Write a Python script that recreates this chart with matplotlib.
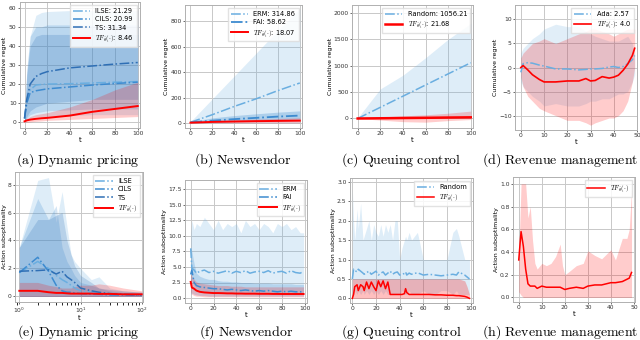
import numpy as np
import matplotlib; matplotlib.use("Agg")
import matplotlib.pyplot as plt

plt.rcParams["mathtext.fontset"] = "cm"
plt.rcParams["font.family"] = "DejaVu Sans"

TF = r"$TF_{\hat{\theta}}(\cdot)$"
C_L, C_M, C_D, C_R = "#6aaee0", "#3d8bd0", "#2f6fb5", "#ff0000"

# ── (a) dynamic pricing, cumulative regret ──────────────────────────────────
a_t        = [0, 2, 5, 10, 15, 20, 40, 60, 80, 100]
a_ilse     = [2, 12, 17, 19.5, 19.8, 20, 20.2, 20.6, 21, 21.3]
a_ilse_lo  = [0, 1, 2, 3, 3, 3, 3.5, 4, 4, 4]
a_ilse_hi  = [4, 25, 45, 56, 57.5, 58, 58.5, 58.5, 58.5, 58.5]
a_cils     = [2, 10, 15.5, 16.5, 17, 17.5, 18.5, 19.5, 20.3, 21.0]
a_cils_lo  = [0, 2, 4, 5, 5.5, 6, 6.5, 7, 7, 7]
a_cils_hi  = [4, 28, 45, 50, 50, 51, 51, 51, 51, 51]
a_ts       = [2, 12, 20, 24, 25.5, 26.5, 28.5, 29.5, 30.5, 31.3]
a_ts_lo    = [0, 3, 6, 8, 9, 10, 11, 12, 12, 12]
a_ts_hi    = [4, 25, 40, 45, 46, 46, 46, 46, 46, 46]
a_tf       = [0.5, 1, 1.4, 1.8, 2.1, 2.3, 3.5, 5.5, 7, 8.5]
a_tf_lo    = [0, 0, 0.2, 0.5, 0.7, 1, 1.5, 2, 2.5, 3]
a_tf_hi    = [1, 2, 3, 4, 4.5, 5, 8, 12, 17, 21]

# ── (b) newsvendor, cumulative regret ───────────────────────────────────────
b_t       = [0, 20, 40, 60, 80, 100]
b_erm     = [5, 65, 130, 190, 255, 315]
b_erm_lo  = [0, 0, 0, 0, 0, 0]
b_erm_hi  = [10, 190, 370, 550, 730, 900]
b_fai     = [5, 18, 30, 40, 50, 58]
b_fai_lo  = [0, 5, 12, 18, 24, 30]
b_fai_hi  = [10, 40, 58, 72, 85, 95]
b_tf      = [2, 8, 11, 14, 16, 18]
b_tf_lo   = [0, 0, 0, 0, 0, 0]
b_tf_hi   = [5, 18, 25, 30, 35, 40]

# ── (c) queuing control, cumulative regret ──────────────────────────────────
c_t       = [0, 20, 40, 60, 80, 100]
c_rand    = [0, 211, 422, 634, 845, 1056]
c_rand_lo = [0, 0, 0, 0, 0, 0]
c_rand_hi = [10, 560, 820, 1150, 1500, 1800]
c_tf      = [0, 4, 9, 13, 18, 22]
c_tf_lo   = [0, -30, -60, -70, -40, -20]
c_tf_hi   = [0, 30, 50, 70, 100, 140]

# ── (d) revenue management, cumulative regret ───────────────────────────────
d_t       = [0, 1, 3, 5, 8, 10, 15, 20, 25, 28, 30, 32, 35, 38, 40, 42, 44, 46, 48, 49]
d_ada     = [-1, 0.8, 1.0, 0.9, 0.5, 0.3, -0.3, -0.3, -0.5, -0.4, -0.3, -0.3, -0.2, 0.1, 0.2, 0.0, 0.2, 0.8, 1.6, 2.5]
d_ada_lo  = [-3, -4, -5, -6, -7, -8, -7.5, -8, -8, -7.5, -7, -7, -6.5, -6.5, -6, -5.5, -5.5, -5, -3, -1.5]
d_ada_hi  = [3, 4, 5, 6, 7, 8, 9, 8.5, 8.5, 7.5, 7, 6.5, 6, 5.5, 5.5, 5.5, 6, 6.5, 5, 2]
d_tf      = [0, 0.4, -0.5, -1.5, -2.5, -3, -3, -2.8, -2.8, -2.3, -2.8, -2.7, -1.9, -2.2, -2.0, -1.6, -0.6, 0.7, 2.5, 4.0]
d_tf_lo   = [-2, -4, -6, -7, -8.5, -9, -10, -11, -11, -11.5, -12, -11.5, -11, -10.5, -10.5, -10, -9, -7, -3, 0]
d_tf_hi   = [2, 3, 4, 5, 5.5, 6, 5, 6, 7, 7.5, 8, 8, 7.5, 7, 6.5, 7, 7.5, 8, 8, 8]

# ── (e) dynamic pricing, action suboptimality (log t) ───────────────────────
e_t       = [1, 2, 3, 4, 5, 6, 7, 8, 10, 15, 20, 30, 50, 100]
e_ilse    = [1.7, 2.5, 2.0, 1.5, 1.2, 1.0, 0.8, 0.6, 0.4, 0.3, 0.2, 0.2, 0.15, 0.1]
e_ilse_hi = [3.5, 8.3, 8.5, 5.3, 7.5, 5.0, 3.0, 2.5, 2.0, 1.2, 1.4, 0.6, 0.4, 0.3]
e_cils    = [1.7, 2.8, 1.8, 0.8, 0.4, 0.3, 0.3, 0.25, 0.2, 0.15, 0.15, 0.1, 0.1, 0.1]
e_cils_hi = [3.5, 7.0, 5.5, 6.5, 3.5, 2.5, 2.0, 1.5, 1.0, 0.8, 0.6, 0.4, 0.3, 0.3]
e_ts      = [1.8, 1.85, 1.9, 1.6, 1.8, 1.4, 1.2, 1.0, 0.6, 0.4, 0.3, 0.2, 0.15, 0.1]
e_ts_hi   = [3.5, 5.5, 5.5, 5.8, 6.0, 4.0, 3.0, 2.2, 1.5, 1.0, 0.6, 0.5, 0.4, 0.3]
e_tf      = [0.4, 0.4, 0.3, 0.25, 0.25, 0.22, 0.2, 0.2, 0.2, 0.2, 0.18, 0.18, 0.15, 0.15]
e_tf_hi   = [1.0, 1.0, 0.8, 0.7, 0.6, 0.6, 0.6, 0.7, 0.8, 0.8, 0.9, 0.8, 0.6, 0.4]
e_lo      = [0] * 14

# ── (f) newsvendor, action suboptimality ────────────────────────────────────
f_t       = [0, 1, 3, 5, 8, 12, 16, 20, 24, 28, 32, 36, 40, 44, 48, 52, 56, 60, 64, 68, 72, 76, 80, 84, 88, 92, 96, 99]
f_erm     = [8.0, 4.8, 4.5, 4.0, 4.3, 4.5, 4.1, 4.3, 4.0, 4.2, 4.4, 4.0, 4.3, 4.1, 4.4, 4.0, 4.2, 4.3, 4.1, 4.4, 4.0, 4.2, 4.3, 4.0, 4.4, 4.1, 4.0, 4.3]
f_erm_hi  = [10.5, 12.5, 11.0, 12.0, 11.5, 13.0, 12.0, 11.0, 12.5, 11.0, 12.0, 11.5, 12.0, 10.5, 12.5, 11.5, 12.0, 11.0, 12.0, 11.5, 10.5, 12.0, 11.5, 12.0, 11.0, 11.5, 10.5, 10.5]
f_erm_lo  = [5.0, 3.0, 2.0, 1.5, 1.2, 1.0, 1.0, 1.0, 0.9, 0.9, 0.9, 0.9, 0.9, 0.9, 0.9, 0.9, 0.9, 0.9, 0.9, 0.9, 0.9, 0.9, 0.9, 0.9, 0.9, 0.9, 0.9, 0.9]
f_fai     = [3.8, 4.5, 2.5, 2.0, 1.8, 1.7, 1.6, 1.5, 1.5, 1.4, 1.3, 1.4, 1.3, 1.2, 1.3, 1.2, 1.1, 1.2, 1.1, 1.2, 1.1, 1.0, 1.1, 1.0, 1.1, 1.0, 1.0, 1.0]
f_fai_hi  = [8.0, 7.5, 5.5, 4.0, 3.5, 3.2, 3.0, 3.0, 2.8, 2.7, 2.7, 2.6, 2.6, 2.5, 2.5, 2.5, 2.4, 2.4, 2.4, 2.4, 2.3, 2.3, 2.3, 2.3, 2.3, 2.2, 2.2, 2.2]
f_fai_lo  = [0.5, 0.8, 0.6, 0.5, 0.4, 0.4, 0.3, 0.3, 0.3, 0.3, 0.3, 0.3, 0.3, 0.3, 0.3, 0.3, 0.3, 0.3, 0.3, 0.3, 0.3, 0.3, 0.3, 0.3, 0.3, 0.3, 0.3, 0.3]
f_tf      = [2.6, 1.7, 1.5, 1.2, 1.0, 0.9, 0.85, 0.8, 0.8, 0.78, 0.75, 0.75, 0.72, 0.72, 0.7, 0.7, 0.7, 0.68, 0.68, 0.68, 0.66, 0.66, 0.65, 0.65, 0.65, 0.65, 0.65, 0.65]
f_tf_hi   = [4.0, 3.5, 3.0, 2.6, 2.4, 2.3, 2.2, 2.1, 2.0, 2.0, 2.0, 1.9, 1.9, 1.9, 1.8, 1.8, 1.8, 1.8, 1.8, 1.8, 1.8, 1.8, 1.8, 1.8, 1.8, 1.8, 1.8, 1.8]
f_tf_lo   = [1.0, 0.6, 0.4, 0.3, 0.3, 0.2, 0.2, 0.2, 0.2, 0.2, 0.2, 0.2, 0.2, 0.2, 0.2, 0.2, 0.2, 0.2, 0.2, 0.2, 0.2, 0.2, 0.2, 0.2, 0.2, 0.2, 0.2, 0.2]

# ── (g) queuing control, action suboptimality ───────────────────────────────
g_t       = [0, 1, 2, 4, 5, 7, 9, 10, 12, 14, 16, 18, 20, 22, 24, 26, 28, 30, 32, 34, 36, 38, 40, 42, 44, 45, 46, 48, 50, 55, 60, 65, 70, 75, 80, 85, 88, 90, 95, 97, 99]
g_rand    = [0.5, 0.75, 0.72, 0.68, 0.75, 0.7, 0.65, 0.62, 0.66, 0.7, 0.62, 0.66, 0.7, 0.6, 0.65, 0.68, 0.6, 0.65, 0.7, 0.62, 0.66, 0.68, 0.6, 0.62, 0.64, 0.68, 0.6, 0.65, 0.62, 0.66, 0.6, 0.62, 0.6, 0.58, 0.6, 0.62, 0.6, 0.68, 0.6, 0.55, 0.5]
g_rand_hi = [2.8, 2.0, 1.5, 2.3, 1.8, 2.45, 1.5, 1.6, 1.8, 2.0, 1.5, 1.9, 1.7, 1.6, 1.9, 1.6, 1.9, 1.7, 1.9, 1.5, 2.0, 2.0, 1.0, 1.3, 1.5, 1.6, 1.5, 1.7, 1.5, 1.7, 1.0, 1.0, 1.0, 1.0, 1.0, 1.7, 1.8, 1.6, 1.0, 1.0, 1.0]
g_rand_lo = [0.2, 0.1, 0.2, 0.1, 0.2, 0.1, 0.2, 0.1, 0.2, 0.1, 0.2, 0.1, 0.2, 0.1, 0.2, 0.1, 0.2, 0.1, 0.1, 0.1, 0.1, 0.1, 0.1, 0.2, 0.1, 0.1, 0.1, 0.2, 0.1, 0.1, 0.2, 0.1, 0.1, 0.2, 0.2, 0.1, 0.2, 0.1, 0.1, 0.1, 0.1]
g_tf      = [0.0, 0.1, 0.3, 0.35, 0.2, 0.35, 0.3, 0.2, 0.42, 0.25, 0.42, 0.3, 0.2, 0.45, 0.3, 0.45, 0.25, 0.42, 0.1, 0.1, 0.1, 0.1, 0.1, 0.1, 0.12, 0.25, 0.15, 0.1, 0.1, 0.1, 0.1, 0.1, 0.09, 0.09, 0.08, 0.08, 0.07, 0.07, 0.05, 0.03, 0.0]
g_tf_hi   = [0.5] * 38 + [0.45, 0.3, 0.1]

# ── (h) revenue management, action suboptimality ────────────────────────────
h_t       = [0, 1, 2, 3, 4, 5, 6, 7, 8, 10, 12, 14, 16, 18, 19, 20, 22, 25, 28, 30, 33, 36, 38, 40, 42, 45, 47, 48, 49]
h_tf      = [0.33, 0.58, 0.45, 0.25, 0.12, 0.1, 0.1, 0.1, 0.08, 0.1, 0.09, 0.09, 0.09, 0.09, 0.08, 0.07, 0.08, 0.09, 0.08, 0.1, 0.11, 0.11, 0.12, 0.13, 0.13, 0.14, 0.16, 0.17, 0.22]
h_tf_hi   = [0.35, 1.0, 1.0, 1.0, 0.7, 0.8, 0.5, 0.3, 0.25, 0.3, 0.28, 0.3, 0.36, 0.47, 0.28, 0.2, 0.23, 0.28, 0.3, 0.41, 0.37, 0.34, 0.38, 0.42, 0.33, 0.52, 0.52, 0.6, 0.95]
h_tf_lo   = [0.05, 0.02, 0.0, 0.0, 0.0, 0.0, 0.0, 0.0, 0.0, 0.0, 0.0, 0.0, 0.0, 0.0, 0.0, 0.0, 0.0, 0.0, 0.0, 0.0, 0.0, 0.0, 0.0, 0.0, 0.0, 0.0, 0.0, 0.0, 0.0]

# ── figure ───────────────────────────────────────────────────────────────────
W, H = 640, 340
fig = plt.figure(figsize=(6.4, 3.4), dpi=100)

def box(l, r, t, b):
    return [l / W, 1 - b / H, (r - l) / W, (b - t) / H]

def style(ax, ylabel, ylab_x=None):
    ax.set_facecolor("white")
    ax.grid(True, color="#c8c8c8", lw=0.7)
    ax.set_axisbelow(True)
    for s in ax.spines.values():
        s.set_color("#b0b0b0"); s.set_linewidth(0.7)
    ax.tick_params(labelsize=4.3, length=1.5, width=0.5, pad=1, colors="#333333")
    ax.set_xlabel("t", fontsize=5, labelpad=0.5)
    ax.set_ylabel(ylabel, fontsize=4.5, labelpad=0.5)
    if ylab_x is not None:
        # pin the label inside the figure for the leftmost panels
        bb = ax.get_position()
        ax.yaxis.set_label_coords((ylab_x / W - bb.x0) / bb.width, 0.5)

def band(ax, t, lo, hi, c, a=0.22):
    ax.fill_between(t, lo, hi, color=c, alpha=a, lw=0)

def caption(x, y, s):
    fig.text(x / W, 1 - y / H, r"$\mathrm{" + s.replace(" ", r"\ ") + "}$",
             ha="center", va="center", fontsize=10)

def leg(ax):
    ax.legend(fontsize=4.8, loc="upper right", framealpha=0.85, edgecolor="#dddddd",
              handlelength=2.6, borderpad=0.4, labelspacing=0.35, fancybox=False)

CR = "Cumulative regret"
AS = "Action suboptimality"

# (a)
ax = fig.add_axes(box(20, 140, 2, 128))
band(ax, a_t, a_ilse_lo, a_ilse_hi, C_L)
band(ax, a_t, a_cils_lo, a_cils_hi, C_M)
band(ax, a_t, a_ts_lo, a_ts_hi, C_D)
band(ax, a_t, a_tf_lo, a_tf_hi, C_R, 0.2)
ax.plot(a_t, a_ilse, "-.", color=C_L, lw=1.1, label="ILSE: 21.29")
ax.plot(a_t, a_cils, "-.", color=C_M, lw=1.1, label="CILS: 20.99")
ax.plot(a_t, a_ts, "-.", color=C_D, lw=1.1, label="TS: 31.34")
ax.plot(a_t, a_tf, "-", color=C_R, lw=1.4, label=TF + ": 8.46")
ax.set_xlim(-4, 102); ax.set_ylim(-3, 63)
ax.set_xticks(range(0, 101, 20)); ax.set_yticks(range(0, 61, 10))
style(ax, CR, ylab_x=7.5); leg(ax)
caption(78, 160, "(a) Dynamic pricing")

# (b)
ax = fig.add_axes(box(185, 302, 5, 128))
band(ax, b_t, b_erm_lo, b_erm_hi, C_L)
band(ax, b_t, b_fai_lo, b_fai_hi, C_M, 0.3)
band(ax, b_t, b_tf_lo, b_tf_hi, C_R, 0.2)
ax.plot(b_t, b_erm, "-.", color=C_L, lw=1.1, label="ERM: 314.86")
ax.plot(b_t, b_fai, "-.", color=C_M, lw=1.3, label="FAI: 58.62")
ax.plot(b_t, b_tf, "-", color=C_R, lw=1.4, label=TF + ": 18.07")
ax.set_xlim(-5, 102); ax.set_ylim(-40, 930)
ax.set_xticks(range(0, 101, 20)); ax.set_yticks(range(0, 801, 200))
style(ax, CR); leg(ax)
caption(243, 160, "(b) Newsvendor")

# (c)
ax = fig.add_axes(box(352, 473, 5, 128))
band(ax, c_t, c_rand_lo, c_rand_hi, C_L)
band(ax, c_t, c_tf_lo, c_tf_hi, C_R, 0.2)
ax.plot(c_t, c_rand, "-.", color=C_L, lw=1.1, label="Random: 1056.21")
ax.plot(c_t, c_tf, "-", color=C_R, lw=1.8, label=TF + ": 21.68")
ax.set_xlim(-5, 102); ax.set_ylim(-180, 2150)
ax.set_xticks(range(0, 101, 20)); ax.set_yticks(range(0, 2001, 500))
style(ax, CR); leg(ax)
caption(401, 160, "(c) Queuing control")

# (d)
ax = fig.add_axes(box(515, 637, 5, 130))
band(ax, d_t, d_ada_lo, d_ada_hi, C_L, 0.2)
band(ax, d_t, d_tf_lo, d_tf_hi, C_R, 0.2)
ax.plot(d_t, d_ada, "-.", color=C_L, lw=1.1, label="Ada: 2.57")
ax.plot(d_t, d_tf, "-", color=C_R, lw=1.2, label=TF + ": 4.0")
ax.set_xlim(-2.5, 50); ax.set_ylim(-13, 13)
ax.set_xticks(range(0, 51, 10)); ax.set_yticks([-10, -5, 0, 5, 10])
style(ax, CR); leg(ax)
caption(560, 160, "(d) Revenue management")

# (e)
ax = fig.add_axes(box(15, 143, 172, 302))
band(ax, e_t, e_lo, e_ilse_hi, C_L)
band(ax, e_t, e_lo, e_cils_hi, C_M)
band(ax, e_t, e_lo, e_ts_hi, C_D)
band(ax, e_t, e_lo, e_tf_hi, C_R, 0.2)
ax.plot(e_t, e_ilse, "-.", color=C_L, lw=1.1, label="ILSE")
ax.plot(e_t, e_cils, "-.", color=C_M, lw=1.1, label="CILS")
ax.plot(e_t, e_ts, "-.", color=C_D, lw=1.1, label="TS")
ax.plot(e_t, e_tf, "-", color=C_R, lw=1.4, label=TF)
ax.set_xscale("log")
ax.set_xlim(0.85, 105); ax.set_ylim(-0.4, 8.9)
ax.set_yticks([0, 2, 4, 6, 8])
style(ax, AS, ylab_x=7.5); leg(ax)
caption(78, 332, "(e) Dynamic pricing")

# (f)
ax = fig.add_axes(box(185, 307, 180, 303))
band(ax, f_t, f_erm_lo, f_erm_hi, C_L)
band(ax, f_t, f_fai_lo, f_fai_hi, C_M, 0.25)
band(ax, f_t, f_tf_lo, f_tf_hi, C_R, 0.2)
ax.plot(f_t, f_erm, "-.", color=C_L, lw=1.1, label="ERM")
ax.plot(f_t, f_fai, "-.", color=C_M, lw=1.1, label="FAI")
ax.plot(f_t, f_tf, "-", color=C_R, lw=1.4, label=TF)
ax.set_xlim(-5, 102); ax.set_ylim(-0.8, 19)
ax.set_xticks(range(0, 101, 20)); ax.set_yticks(np.arange(0, 17.6, 2.5))
style(ax, AS); leg(ax)
caption(246, 332, "(f) Newsvendor")

# (g)
ax = fig.add_axes(box(350, 473, 178, 303))
band(ax, g_t, g_rand_lo, g_rand_hi, C_L)
band(ax, g_t, [0] * len(g_t), g_tf_hi, C_R, 0.25)
ax.plot(g_t, g_rand, "-.", color=C_L, lw=1.1, label="Random")
ax.plot(g_t, g_tf, "-", color=C_R, lw=1.1, label=TF)
ax.set_xlim(-2, 102); ax.set_ylim(-0.12, 3.1)
ax.set_xticks(range(0, 101, 20)); ax.set_yticks(np.arange(0, 3.01, 0.5))
style(ax, AS); leg(ax)
caption(401, 332, "(g) Queuing control")

# (h)
ax = fig.add_axes(box(513, 635, 177, 302))
band(ax, h_t, h_tf_lo, h_tf_hi, C_R, 0.2)
ax.plot(h_t, h_tf, "-", color=C_R, lw=1.1, label=TF)
ax.set_xlim(-2.5, 50.5); ax.set_ylim(-0.04, 1.06)
ax.set_xticks(range(0, 51, 10)); ax.set_yticks(np.arange(0, 1.01, 0.2))
style(ax, AS); leg(ax)
caption(560, 332, "(h) Revenue management")

plt.savefig("out.png", dpi=100)
